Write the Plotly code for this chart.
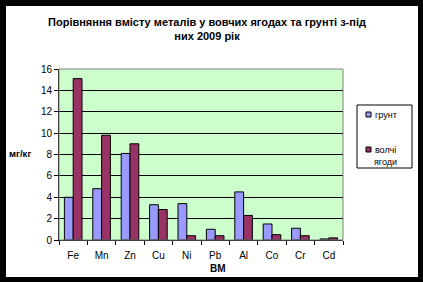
import plotly.graph_objects as go

categories = ["Fe", "Mn", "Zn", "Cu", "Ni", "Pb", "Al", "Co", "Cr", "Cd"]
soil = [4.0, 4.8, 8.1, 3.3, 3.4, 1.0, 4.5, 1.5, 1.1, 0.1]
berries = [15.1, 9.8, 9.0, 2.85, 0.4, 0.4, 2.3, 0.5, 0.4, 0.2]
series_names = ["грунт", "волчі<br>ягоди"]
y_ticks = [0, 2, 4, 6, 8, 10, 12, 14, 16]

SOIL_COLOR = "#9999FF"
BERRY_COLOR = "#993366"
PLOT_BG = "#CCFFCC"
FONT = "Arial, Liberation Sans"

W, H = 423, 282
L, R, T, B = 59, 343, 69, 240  # plot area in pixels


def px(x):
    return (x - L) / (R - L)


def py(y):
    return (B - y) / (B - T)


fig = go.Figure()
fig.add_trace(go.Bar(x=categories, y=soil, name="грунт",
                     marker=dict(color=SOIL_COLOR, line=dict(color="black", width=1))))
fig.add_trace(go.Bar(x=categories, y=berries, name="волчі ягоди",
                     marker=dict(color=BERRY_COLOR, line=dict(color="black", width=1))))

shapes = []
# gray border of plot area
shapes.append(dict(type="rect", xref="paper", yref="paper", x0=0, x1=1, y0=0, y1=1,
                   line=dict(color="#808080", width=1), fillcolor="rgba(0,0,0,0)", layer="above"))
# black frame around image
for (x0, x1, y0, y1) in [(0, 6, 0, H), (418, W, 0, H), (0, W, 0, 6), (0, W, 277, H)]:
    shapes.append(dict(type="rect", xref="paper", yref="paper",
                       x0=px(x0), x1=px(x1), y0=py(y1), y1=py(y0),
                       line=dict(width=0), fillcolor="black", layer="above"))
# manual legend box
shapes.append(dict(type="rect", xref="paper", yref="paper",
                   x0=px(357), x1=px(412), y0=py(168), y1=py(105),
                   line=dict(color="black", width=1), fillcolor="white", layer="above"))
shapes.append(dict(type="rect", xref="paper", yref="paper",
                   x0=px(366), x1=px(371), y0=py(117), y1=py(112),
                   line=dict(color="black", width=1), fillcolor=SOIL_COLOR, layer="above"))
shapes.append(dict(type="rect", xref="paper", yref="paper",
                   x0=px(366), x1=px(371), y0=py(152), y1=py(147),
                   line=dict(color="black", width=1), fillcolor=BERRY_COLOR, layer="above"))

annotations = [
    dict(text="<b>мг/кг</b>", x=px(20), y=py(153), xref="paper", yref="paper",
         xanchor="center", yanchor="middle",
         showarrow=False, font=dict(size=9.5, family=FONT, color="black")),
    dict(text="<b>ВМ</b>", x=px(218), y=py(268), xref="paper", yref="paper",
         xanchor="center", yanchor="middle",
         showarrow=False, font=dict(size=10, family=FONT, color="black")),
    dict(text=series_names[0], x=px(373), y=py(114.5), xref="paper", yref="paper",
         xanchor="left", yanchor="middle", showarrow=False,
         font=dict(size=9, family=FONT, color="black")),
    dict(text=series_names[1], x=px(385), y=py(155.5), xref="paper", yref="paper",
         xanchor="center", yanchor="middle", align="center", showarrow=False,
         font=dict(size=9, family=FONT, color="black")),
]

fig.update_layout(
    width=W, height=H,
    margin=dict(l=L, r=W - R, t=T, b=H - B, pad=0),
    paper_bgcolor="white",
    plot_bgcolor=PLOT_BG,
    barmode="group",
    bargap=0.38,
    bargroupgap=0,
    showlegend=False,
    font=dict(family=FONT, size=10, color="black"),
    title=dict(text="<b>Порівняння вмісту металів у вовчих ягодах та грунті з-під<br>них 2009 рік</b>",
               x=207 / W, xref="container", xanchor="center",
               y=1 - 26 / H, yref="container", yanchor="top",
               font=dict(size=11, family=FONT, color="black")),
    shapes=shapes,
    annotations=annotations,
)
fig.update_xaxes(
    showline=True, linecolor="black", linewidth=1,
    ticks="outside", tickson="boundaries", ticklen=4, tickcolor="black",
    showgrid=False, tickfont=dict(size=10), ticklabelstandoff=6,
)
fig.update_yaxes(
    range=[0, 16], tickvals=y_ticks, showline=True, linecolor="black", linewidth=1,
    ticks="outside", ticklen=4, tickcolor="black",
    showgrid=True, gridcolor="black", gridwidth=1, zeroline=False,
    tickfont=dict(size=10),
)

fig.write_html("out.html")
